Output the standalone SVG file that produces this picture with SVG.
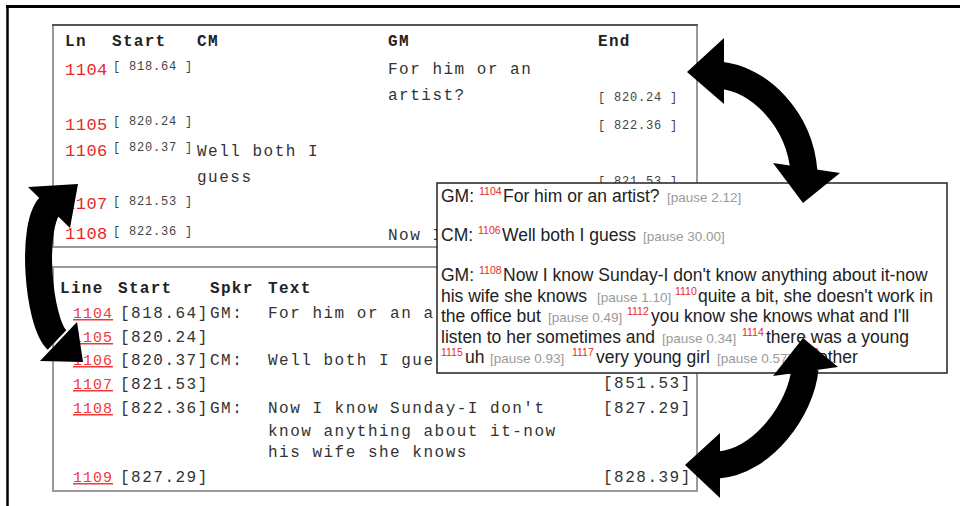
<svg xmlns="http://www.w3.org/2000/svg" width="960" height="506" viewBox="0 0 960 506">
<style>
.mono{font-family:"Liberation Mono","Courier New",monospace}
.hdr{font-weight:bold;font-size:16px;letter-spacing:1.3px;fill:#222}
.rn{fill:#e8282a;font-size:17px;letter-spacing:0.5px}
.sm{font-size:12px;letter-spacing:0.8px;fill:#444}
.body{font-size:16px;letter-spacing:1.5px;fill:#333}
.ru{fill:#ee3a3a;font-size:15px;letter-spacing:1px;text-decoration:underline}
.panel{fill:#fff;stroke:#9a9a9a;stroke-width:2}
.sans{font-family:"Liberation Sans",Arial,sans-serif;font-size:17.5px;fill:#222}
.p{font-size:13.5px;fill:#9a9a9a}
.sup{font-size:10.5px;fill:#e8282a}
.shaft{fill:none;stroke:#000;stroke-width:27}
.head{fill:#000}
</style>
<rect width="960" height="506" fill="#fff"/>
<g id="frame">
<line x1="6" y1="6.5" x2="960" y2="6.5" stroke="#000" stroke-width="3"/>
<line x1="7.5" y1="5" x2="7.5" y2="506" stroke="#000" stroke-width="2.5"/>
</g>
<g id="table-top" class="mono">
<rect class="panel" x="53" y="25" width="644" height="222"/>
<line x1="52" y1="25" x2="698" y2="25" stroke="#555" stroke-width="2"/>
<text class="hdr" x="65" y="46">Ln</text>
<text class="hdr" x="112" y="46">Start</text>
<text class="hdr" x="197" y="46">CM</text>
<text class="hdr" x="388" y="46">GM</text>
<text class="hdr" x="598" y="46">End</text>
<text class="rn" x="65" y="75">1104</text>
<text class="sm" x="113" y="70">[ 818.64 ]</text>
<text class="body" x="388" y="74">For him or an</text>
<text class="body" x="388" y="100">artist?</text>
<text class="sm" x="598" y="101">[ 820.24 ]</text>
<text class="rn" x="65" y="130">1105</text>
<text class="sm" x="113" y="125">[ 820.24 ]</text>
<text class="sm" x="598" y="129">[ 822.36 ]</text>
<text class="rn" x="65" y="156">1106</text>
<text class="sm" x="113" y="151">[ 820.37 ]</text>
<text class="body" x="197" y="156">Well both I</text>
<text class="body" x="197" y="182">guess</text>
<text class="sm" x="598" y="185">[ 821.53 ]</text>
<text class="rn" x="65" y="209">1107</text>
<text class="sm" x="113" y="205">[ 821.53 ]</text>
<text class="rn" x="65" y="239">1108</text>
<text class="sm" x="113" y="235">[ 822.36 ]</text>
<text class="body" x="388" y="240">Now I</text>
</g>
<g id="table-bottom" class="mono">
<rect class="panel" x="53" y="267" width="644" height="224"/>
<text class="hdr" x="60" y="293">Line</text>
<text class="hdr" x="118" y="293">Start</text>
<text class="hdr" x="210" y="293">Spkr</text>
<text class="hdr" x="268" y="293">Text</text>
<text class="ru" x="73" y="318">1104</text>
<text class="body" x="120" y="318">[818.64]</text>
<text class="body" x="210" y="318">GM:</text>
<text class="body" x="268" y="318">For him or an a</text>
<text class="ru" x="73" y="342">1105</text>
<text class="body" x="120" y="342">[820.24]</text>
<text class="ru" x="73" y="365">1106</text>
<text class="body" x="120" y="365">[820.37]</text>
<text class="body" x="210" y="365">CM:</text>
<text class="body" x="268" y="365">Well both I gue</text>
<text class="ru" x="73" y="389">1107</text>
<text class="body" x="120" y="389">[821.53]</text>
<text class="body" x="603" y="388">[851.53]</text>
<text class="ru" x="73" y="413">1108</text>
<text class="body" x="120" y="413">[822.36]</text>
<text class="body" x="210" y="413">GM:</text>
<text class="body" x="268" y="413">Now I know Sunday-I don't</text>
<text class="body" x="603" y="413">[827.29]</text>
<text class="body" x="268" y="436">know anything about it-now</text>
<text class="body" x="268" y="457">his wife she knows</text>
<text class="ru" x="73" y="482">1109</text>
<text class="body" x="120" y="482">[827.29]</text>
<text class="body" x="603" y="482">[828.39]</text>
</g>
<g id="popup" class="sans">
<rect x="437" y="183" width="510" height="190" fill="#fff" stroke="#222" stroke-width="1.5"/>
<text y="202"><tspan x="441">GM:</tspan><tspan class="sup" x="479" dy="-7">1104</tspan><tspan x="503" dy="7">For him or an artist?</tspan><tspan class="p" x="667">[pause 2.12]</tspan></text>
<text y="241"><tspan x="441">CM:</tspan><tspan class="sup" x="478" dy="-7">1106</tspan><tspan x="502" dy="7">Well both I guess</tspan><tspan class="p" x="643">[pause 30.00]</tspan></text>
<text y="281"><tspan x="441">GM:</tspan><tspan class="sup" x="479" dy="-7">1108</tspan><tspan x="503" dy="7">Now I know Sunday-I don't know anything about it-now</tspan></text>
<text y="301.5"><tspan x="441">his wife she knows</tspan><tspan class="p" x="597">[pause 1.10]</tspan><tspan class="sup" x="675" dy="-7">1110</tspan><tspan x="698" dy="7">quite a bit, she doesn't work in</tspan></text>
<text y="322"><tspan x="441">the office but</tspan><tspan class="p" x="548">[pause 0.49]</tspan><tspan class="sup" x="627" dy="-7">1112</tspan><tspan x="651" dy="7">you know she knows what and I'll</tspan></text>
<text y="342.5"><tspan x="441">listen to her sometimes and</tspan><tspan class="p" x="662">[pause 0.34]</tspan><tspan class="sup" x="742" dy="-7">1114</tspan><tspan x="766" dy="7">there was a young</tspan></text>
<text y="363"><tspan class="sup" x="441" dy="-7">1115</tspan><tspan x="465" dy="7">uh</tspan><tspan class="p" x="490">[pause 0.93]</tspan><tspan class="sup" x="572" dy="-7">1117</tspan><tspan x="596" dy="7">very young girl</tspan><tspan class="p" x="717">[pause 0.57]</tspan><tspan class="sup" x="797" dy="-7">1118</tspan><tspan x="818" dy="7">other</tspan></text>
</g>
<g id="connectors">
<g id="arrow-top-right">
<path class="shaft" d="M 718 75 C 760 78, 800 120, 804 172"/>
<polygon class="head" points="687,72 724,38 724,104"/>
<polygon class="head" points="803,203 773,163 840,173"/>
</g>
<g id="arrow-left">
<path class="shaft" d="M 51 205 C 30 223, 38 322, 57 340"/>
<polygon class="head" points="78,184 28,187 70,228"/>
<polygon class="head" points="83,362 77,322 40,361"/>
</g>
<g id="arrow-bottom-right">
<path class="shaft" d="M 805 369 C 801 410, 762 462, 718 465"/>
<polygon class="head" points="803,338 773,376 838,367"/>
<polygon class="head" points="685,465 720,433 720,498"/>
</g>
</g>
</svg>
